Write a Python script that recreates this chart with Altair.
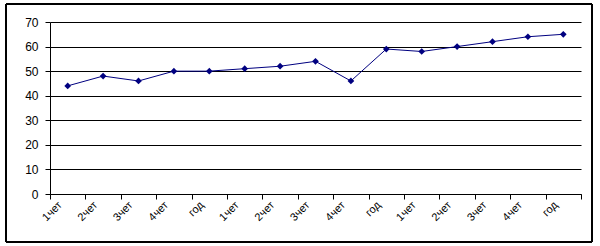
import json
import altair as alt
import pandas as pd

labels = ["1чет", "2чет", "3чет", "4чет", "год",
          "1чет", "2чет", "3чет", "4чет", "год",
          "1чет", "2чет", "3чет", "4чет", "год"]
values = [44, 48, 46, 50, 50, 51, 52, 54, 46, 59, 58, 60, 62, 64, 65]

df = pd.DataFrame({"idx": list(range(len(values))), "label": labels, "value": values})
df["pos"] = df["idx"] + 0.5

label_expr = json.dumps(labels + [""], ensure_ascii=False) + "[datum.value]"

x_enc = alt.X("pos:Q",
              scale=alt.Scale(domain=[0, len(values)], nice=False, zero=False),
              axis=alt.Axis(values=list(range(len(values) + 1)), labelExpr=label_expr,
                            labelAngle=-45, labelAlign="right", labelBaseline="middle",
                            labelOffset=10, labelPadding=4, tickSize=5, grid=False,
                            domainColor="black", tickColor="black", labelColor="black",
                            labelFont="Liberation Sans", labelFontSize=11,
                            labelOverlap=False, labelBound=False, labelFlush=False,
                            title=None))
y_enc = alt.Y("value:Q",
              scale=alt.Scale(domain=[0, 70], nice=False),
              axis=alt.Axis(values=list(range(0, 71, 10)), tickSize=5, labelPadding=7,
                            grid=True, gridColor="black", gridOpacity=1, gridWidth=1,
                            labelOverlap=False,
                            domainColor="black", tickColor="black", labelColor="black",
                            labelFont="Liberation Sans", labelFontSize=12, title=None))

base = alt.Chart(df).encode(x=x_enc, y=y_enc)
line = base.mark_line(color="#000080", strokeWidth=1)
pts = base.mark_point(shape="diamond", filled=True, color="#000080", size=45, opacity=1)

border = alt.Chart(df).mark_rect(fill=None, stroke="black", strokeWidth=1).encode(
    x=alt.value(-44), x2=alt.value(542), y=alt.value(-18), y2=alt.value(220))

chart = alt.layer(line, pts, border).properties(
    width=531, height=172,
    autosize=alt.AutoSizeParams(type="none"),
    padding={"left": 50, "top": 22, "right": 19, "bottom": 52},
    background="white",
).configure_view(stroke=None)

chart.save("out.html", embed_options={"renderer": "svg", "actions": False})
